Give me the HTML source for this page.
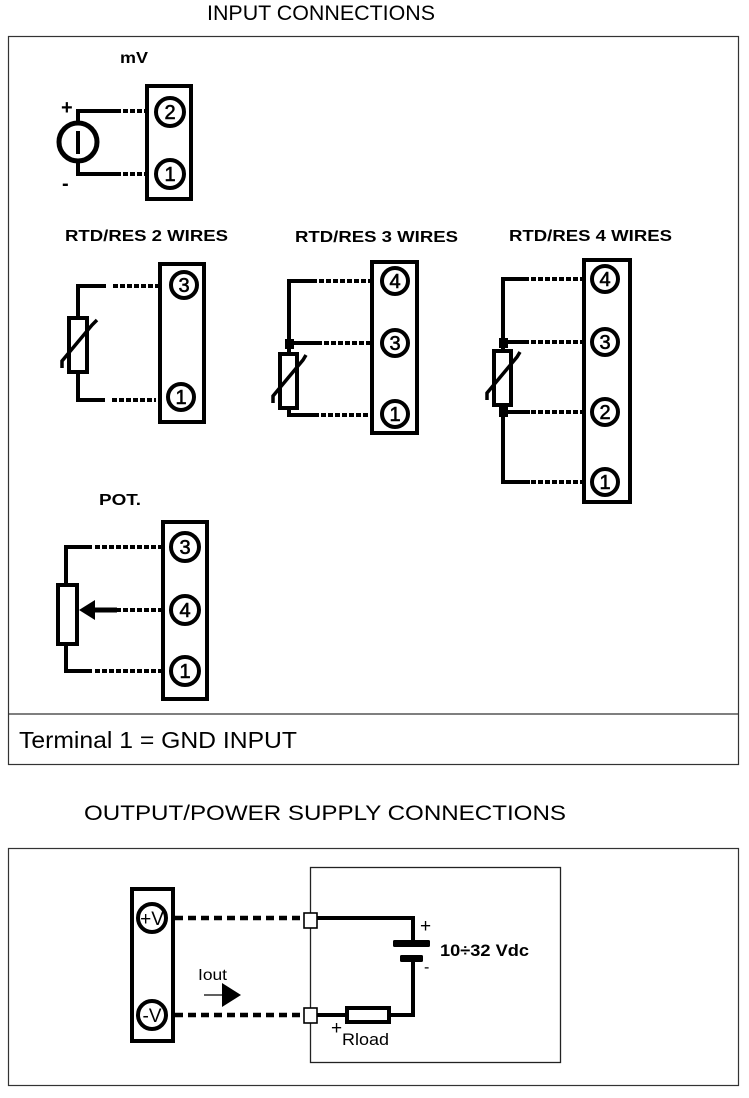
<!DOCTYPE html>
<html><head><meta charset="utf-8"><style>html,body{margin:0;padding:0;background:#fff}svg{display:block}text{font-family:"Liberation Sans",sans-serif;fill:#000}.b{font-weight:bold;font-size:16px}.t{font-size:21px}</style></head><body>
<svg width="749" height="1098" viewBox="0 0 749 1098" xmlns="http://www.w3.org/2000/svg">
<defs><style>.f{fill:none;stroke:#333;stroke-width:1.2}.s{fill:none;stroke:#000;stroke-width:4}.c{fill:#fff;stroke:#000;stroke-width:4}.d{fill:none;stroke:#000;stroke-width:4;stroke-dasharray:5 2}.n{font-size:20px;text-anchor:middle;stroke:#000;stroke-width:.6}.v{font-size:19px;text-anchor:middle}</style></defs>
<text class="t" x="207" y="20" textLength="228" lengthAdjust="spacingAndGlyphs">INPUT CONNECTIONS</text>
<rect class="f" x="8.5" y="36.5" width="730" height="728"/>
<line class="f" x1="8" y1="714" x2="738" y2="714"/>
<text x="19" y="748" font-size="23" textLength="278" lengthAdjust="spacingAndGlyphs">Terminal 1 = GND INPUT</text>
<text class="t" x="84" y="820" textLength="482" lengthAdjust="spacingAndGlyphs">OUTPUT/POWER SUPPLY CONNECTIONS</text>
<rect class="f" x="8.5" y="848.5" width="730" height="237"/>

<!-- mV -->
<text class="b" x="120" y="63" textLength="28" lengthAdjust="spacingAndGlyphs">mV</text>
<rect class="s" x="147" y="86" width="44" height="113"/>
<path class="s" d="M78 123V111H116M78 161V174H116"/>
<path class="d" d="M116 111H147M116 174H147"/>
<circle cx="78" cy="142" r="19" fill="#fff" stroke="#000" stroke-width="5"/>
<line x1="78" y1="131" x2="78" y2="154" stroke="#000" stroke-width="4"/>
<text x="61" y="114" font-size="20" font-weight="bold">+</text>
<text x="62" y="190" font-size="20" font-weight="bold">-</text>
<circle class="c" cx="170" cy="112" r="14"/><text class="n" x="170" y="119">2</text>
<circle class="c" cx="170" cy="174" r="14"/><text class="n" x="170" y="181">1</text>

<!-- RTD 2 -->
<text class="b" x="65" y="241" textLength="163" lengthAdjust="spacingAndGlyphs">RTD/RES 2 WIRES</text>
<rect class="s" x="160" y="264" width="44" height="158"/>
<path class="s" d="M106 286H78V400H105"/>
<path class="d" d="M113 286H159M112 400H156"/>
<rect x="69" y="318" width="18" height="54" fill="#fff" stroke="#000" stroke-width="4"/>
<path fill="none" stroke="#000" stroke-width="3.5" d="M62 368V361L92 325 97 320"/>
<circle class="c" cx="184" cy="285" r="13"/><text class="n" x="184" y="292">3</text>
<circle class="c" cx="181" cy="397" r="13"/><text class="n" x="181" y="404">1</text>

<!-- RTD 3 -->
<text class="b" x="295" y="242" textLength="163" lengthAdjust="spacingAndGlyphs">RTD/RES 3 WIRES</text>
<rect class="s" x="372" y="262" width="45" height="171"/>
<path class="s" d="M317 281H289V353M289 343H317M289 408V415H314"/>
<path class="d" d="M319 281H372M317 343H372M314 415H372"/>
<rect x="285" y="339" width="9" height="10" fill="#000"/>
<rect x="280" y="354" width="17" height="54" fill="#fff" stroke="#000" stroke-width="4"/>
<path fill="none" stroke="#000" stroke-width="3.5" d="M273 403V396L303 360 306 355"/>
<circle class="c" cx="395" cy="281" r="13"/><text class="n" x="395" y="288">4</text>
<circle class="c" cx="395" cy="343" r="13"/><text class="n" x="395" y="350">3</text>
<circle class="c" cx="395" cy="414" r="13"/><text class="n" x="395" y="421">1</text>

<!-- RTD 4 -->
<text class="b" x="509" y="241" textLength="163" lengthAdjust="spacingAndGlyphs">RTD/RES 4 WIRES</text>
<rect class="s" x="584" y="260" width="46" height="242"/>
<path class="s" d="M529 279H503V350M503 342H529M503 405V482H530M503 412H530"/>
<path class="d" d="M531 279H584M531 342H584M531 412H584M531 482H584"/>
<rect x="499" y="338" width="9" height="10" fill="#000"/><rect x="499" y="407" width="9" height="10" fill="#000"/>
<rect x="494" y="351" width="17" height="54" fill="#fff" stroke="#000" stroke-width="4"/>
<path fill="none" stroke="#000" stroke-width="3.5" d="M487 400V393L517 357 520 352"/>
<circle class="c" cx="605" cy="279" r="13"/><text class="n" x="605" y="286">4</text>
<circle class="c" cx="605" cy="342" r="13"/><text class="n" x="605" y="349">3</text>
<circle class="c" cx="605" cy="412" r="13"/><text class="n" x="605" y="419">2</text>
<circle class="c" cx="605" cy="482" r="13"/><text class="n" x="605" y="489">1</text>

<!-- POT -->
<text class="b" x="99" y="505" textLength="42" lengthAdjust="spacingAndGlyphs">POT.</text>
<rect class="s" x="163" y="522" width="44" height="177"/>
<path class="s" d="M92 547H66V585M66 644V671H92"/>
<path class="d" d="M95 547H163M95 671H163M116 610H163"/>
<rect x="58" y="585" width="19" height="59" fill="#fff" stroke="#000" stroke-width="4"/>
<path fill="none" stroke="#000" stroke-width="5" d="M92 610H117"/>
<path d="M79 610L95 600V620Z" fill="#000"/>
<circle class="c" cx="185" cy="547" r="14"/><text class="n" x="185" y="554">3</text>
<circle class="c" cx="185" cy="610" r="14"/><text class="n" x="185" y="617">4</text>
<circle class="c" cx="185" cy="671" r="14"/><text class="n" x="185" y="678">1</text>

<!-- Output -->
<rect x="310.5" y="867.5" width="250" height="195" fill="none" stroke="#222" stroke-width="1.3"/>
<rect class="s" x="132" y="889" width="41" height="152"/>
<path d="M175 918H303M175 1015H303" fill="none" stroke="#000" stroke-width="4.5" stroke-dasharray="8 5"/>
<circle class="c" cx="152" cy="918" r="14"/><text class="v" x="152" y="925">+V</text>
<circle class="c" cx="152" cy="1015" r="14"/><text class="v" x="152" y="1022">-V</text>
<path class="s" d="M317 918H413V943M413 960V1015H389M317 1015H346"/>
<rect x="304" y="913" width="13" height="15" fill="#fff" stroke="#000" stroke-width="1.6"/>
<rect x="304" y="1008" width="13" height="15" fill="#fff" stroke="#000" stroke-width="1.6"/>
<rect x="393" y="940" width="37" height="7" rx="1.5" fill="#000"/>
<rect x="400" y="955" width="23" height="7" rx="1.5" fill="#000"/>
<rect x="347" y="1008" width="42" height="14" fill="#fff" stroke="#000" stroke-width="4"/>
<text x="420" y="932" font-size="19">+</text>
<text x="424" y="972" font-size="16">-</text>
<text x="440" y="956" font-size="17" font-weight="bold" textLength="89" lengthAdjust="spacingAndGlyphs">10÷32 Vdc</text>
<text x="198" y="980" font-size="16" textLength="29" lengthAdjust="spacingAndGlyphs">Iout</text>
<line x1="204" y1="995" x2="222" y2="995" stroke="#000" stroke-width="1.2"/>
<path d="M222 983L241 995 222 1007Z" fill="#000"/>
<text x="331" y="1034" font-size="19">+</text>
<text x="342" y="1045" font-size="16.5" textLength="47" lengthAdjust="spacingAndGlyphs">Rload</text>
</svg>
</body></html>
